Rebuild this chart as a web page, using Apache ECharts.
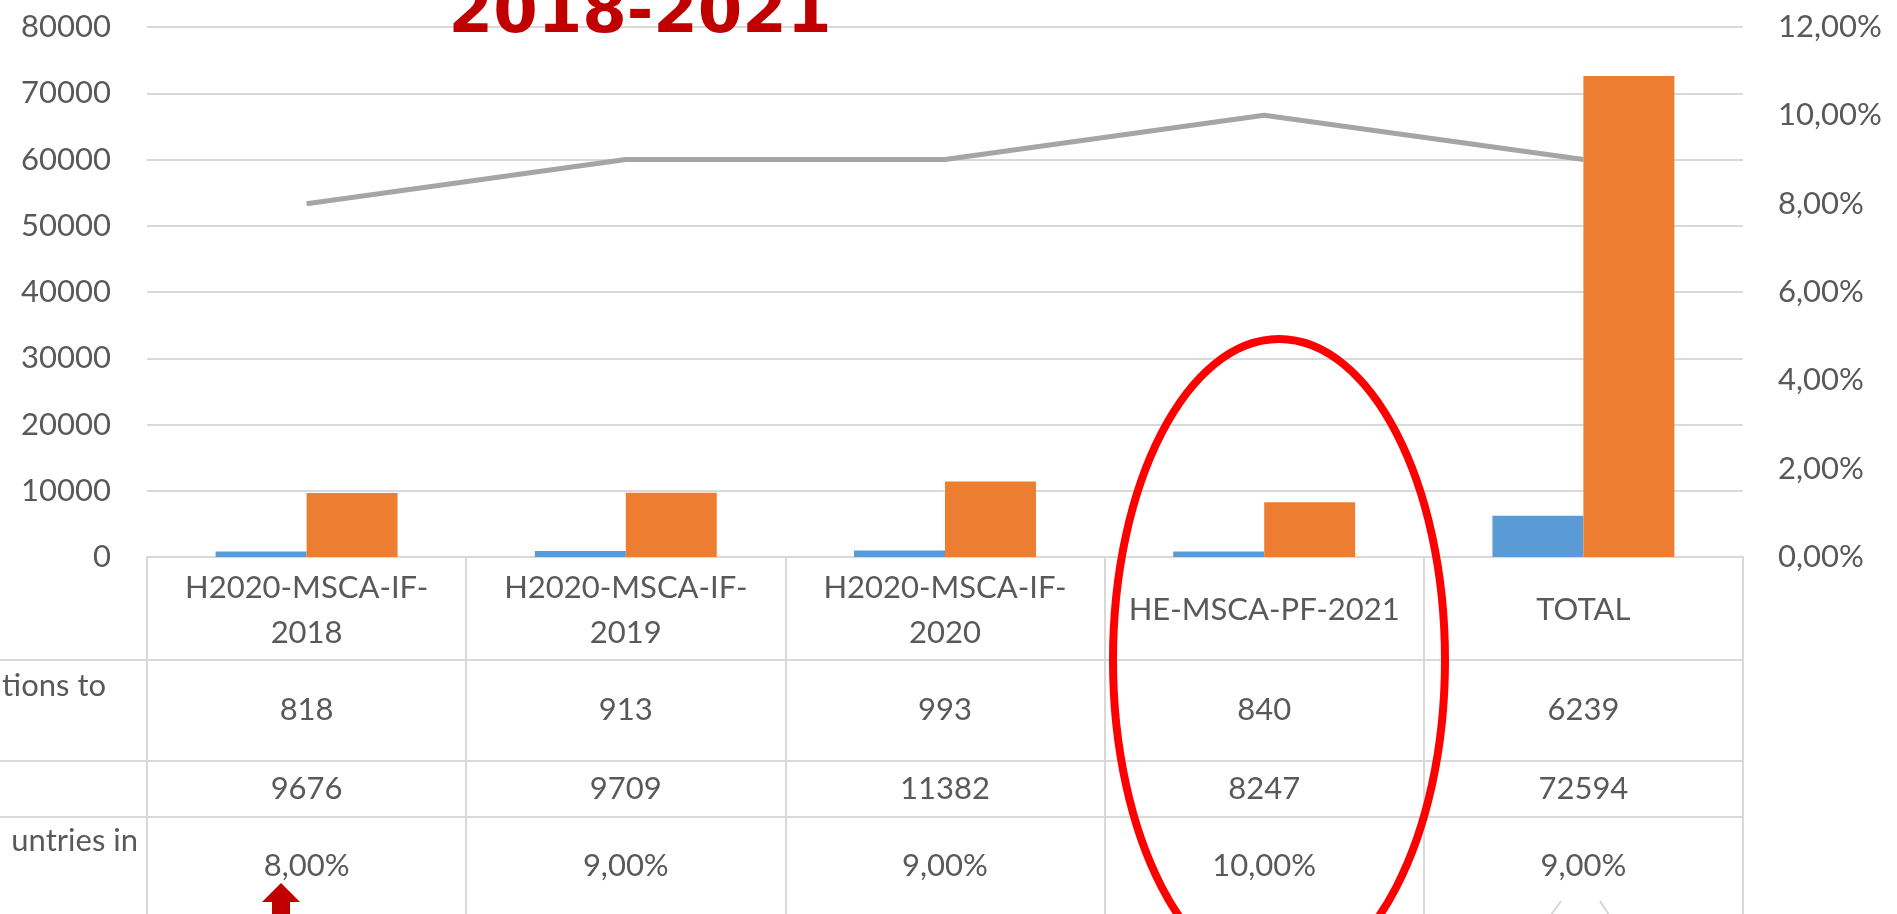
<!DOCTYPE html>
<html>
<head>
<meta charset="utf-8">
<script src="https://cdn.jsdelivr.net/npm/echarts@6.0.0/dist/echarts.min.js"></script>
<style>
  html, body { margin: 0; padding: 0; background: #fff; }
  #chart { width: 1897px; height: 914px; }
</style>
</head>
<body>
<div id="chart"></div>
<script>
// values
const categories = ['H2020-MSCA-IF-2018', 'H2020-MSCA-IF-2019', 'H2020-MSCA-IF-2020', 'HE-MSCA-PF-2021', 'TOTAL']
const applications = [818, 913, 993, 840, 6239]
const submitted = [9676, 9709, 11382, 8247, 72594]
const sharePct = [8, 9, 9, 10, 9]
const rowLabels = ['tions to', 'untries in']
const titleText = '2018-2021'

const FONT = 'Lato'
const TEXT_COLOR = '#595959'
const LINE_COLOR = '#d9d9d9'
const GRID_LEFT = 147
const GRID_RIGHT = 154
const GRID_TOP = 27
const AXIS_Y = 557
// table rows: offset of each row's top line from the x axis, and row height
const ROW_OFFSETS = [0, 103, 204, 260]
const ROW_HEIGHTS = [103, 101, 56, 100]
const LABEL_MARGINS = [53, 50, 28, 49]

const fmtPct = (v) => v.toFixed(2).replace('.', ',') + '%'

const chart = echarts.init(document.getElementById('chart'), null, { renderer: 'canvas' })

function tableAxis(i, data) {
  return {
    type: 'category',
    position: 'bottom',
    offset: ROW_OFFSETS[i],
    data: data,
    boundaryGap: true,
    axisLine: { show: true, onZero: false, lineStyle: { color: LINE_COLOR, width: 2 } },
    axisTick: { show: true, interval: 0, length: ROW_HEIGHTS[i], lineStyle: { color: LINE_COLOR, width: 2 } },
    axisLabel: {
      interval: 0,
      margin: LABEL_MARGINS[i],
      verticalAlign: 'middle',
      lineHeight: 45,
      fontFamily: FONT,
      fontSize: 31,
      color: TEXT_COLOR,
      formatter: (v) => String(v).replace('IF-', 'IF-\n')
    },
    splitLine: { show: false }
  }
}

const option = {
  backgroundColor: '#ffffff',
  animation: false,
  grid: { left: GRID_LEFT, right: GRID_RIGHT, top: GRID_TOP, bottom: 914 - AXIS_Y, containLabel: false },
  xAxis: [
    tableAxis(0, categories),
    tableAxis(1, applications.map(String)),
    tableAxis(2, submitted.map(String)),
    tableAxis(3, sharePct.map(fmtPct))
  ],
  yAxis: [
    {
      type: 'value',
      min: 0,
      max: 80000,
      interval: 10000,
      axisLine: { show: false },
      axisTick: { show: false },
      axisLabel: { margin: 36, fontFamily: FONT, fontSize: 31, color: TEXT_COLOR, formatter: (v) => String(v) },
      splitLine: { show: true, lineStyle: { color: LINE_COLOR, width: 2 } }
    },
    {
      type: 'value',
      position: 'right',
      min: 0,
      max: 12,
      interval: 2,
      axisLine: { show: false },
      axisTick: { show: false },
      axisLabel: { margin: 35, fontFamily: FONT, fontSize: 31, color: TEXT_COLOR, formatter: fmtPct },
      splitLine: { show: false }
    }
  ],
  series: [
    {
      name: 'Applications',
      type: 'bar',
      data: applications,
      barGap: '0%',
      barCategoryGap: '43%',
      itemStyle: { color: '#5b9bd5' }
    },
    {
      name: 'Submitted',
      type: 'bar',
      data: submitted,
      barGap: '0%',
      barCategoryGap: '43%',
      itemStyle: { color: '#ed7d31' }
    },
    {
      name: 'Share',
      type: 'line',
      yAxisIndex: 1,
      data: sharePct,
      symbol: 'none',
      lineStyle: { color: '#a5a5a5', width: 5 },
      itemStyle: { color: '#a5a5a5' }
    }
  ],
  graphic: [
    // title, cut at the top edge, drawn over the top gridline
    {
      type: 'text',
      z: 100,
      x: 640,
      y: 15,
      style: {
        text: titleText,
        font: 'bold 64px "DejaVu Sans"',
        fill: '#c00000',
        textAlign: 'center', align: 'center',
        textVerticalAlign: 'middle', verticalAlign: 'middle'
      }
    },
    // row-label column of the data table
    ...[1, 2, 3].map((i) => ({
      type: 'line',
      shape: { x1: 0, y1: AXIS_Y + ROW_OFFSETS[i], x2: GRID_LEFT, y2: AXIS_Y + ROW_OFFSETS[i] },
      style: { stroke: LINE_COLOR, lineWidth: 2 }
    })),
    {
      type: 'text', x: 106, y: 686,
      style: { text: rowLabels[0], font: '31px Lato', fill: TEXT_COLOR, textAlign: 'right', align: 'right', textVerticalAlign: 'middle', verticalAlign: 'middle' }
    },
    {
      type: 'text', x: 138, y: 841,
      style: { text: rowLabels[1], font: '31px Lato', fill: TEXT_COLOR, textAlign: 'right', align: 'right', textVerticalAlign: 'middle', verticalAlign: 'middle' }
    },
    // red highlight ellipse
    {
      type: 'ellipse',
      z: 100,
      shape: { cx: 1279, cy: 660, rx: 166, ry: 321 },
      style: { fill: 'none', stroke: '#ff0000', lineWidth: 8 }
    },
    // red arrow under the first column
    {
      type: 'polygon',
      z: 100,
      shape: { points: [[281, 883], [300, 902], [290, 902], [290, 916], [272, 916], [272, 902], [262, 902]] },
      style: { fill: '#c00000' }
    },
    // faint arrow outline under TOTAL
    {
      type: 'polyline',
      z: 100,
      shape: { points: [[1561, 901], [1551, 915]] },
      style: { stroke: '#d6d6d6', lineWidth: 2 }
    },
    {
      type: 'polyline',
      z: 100,
      shape: { points: [[1600, 901], [1609, 915]] },
      style: { stroke: '#d6d6d6', lineWidth: 2 }
    }
  ]
}

chart.setOption(option)
window.addEventListener('resize', () => chart.resize())
</script>
</body>
</html>
